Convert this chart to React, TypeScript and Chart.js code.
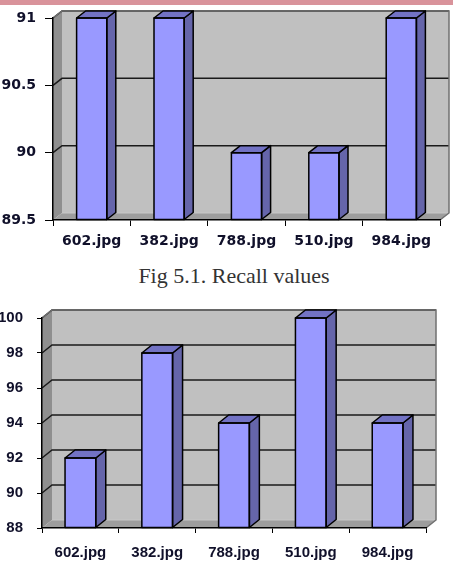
import React, { useEffect, useRef } from "react";
import { Chart, registerables } from "chart.js";

Chart.register(...registerables);

const categories = ["602.jpg", "382.jpg", "788.jpg", "510.jpg", "984.jpg"];
const topValues = [91, 91, 90, 90, 91];
const topMin = 89.5;
const topMax = 91;
const topStep = 0.5;
const bottomValues = [92, 98, 94, 100, 94];
const bottomMin = 88;
const bottomMax = 100;
const bottomStep = 2;
const captionText = "Fig 5.1. Recall values";

function poly(ctx: CanvasRenderingContext2D, pts: number[][], fill: string, stroke?: string, lw = 1) {
  ctx.beginPath();
  ctx.moveTo(pts[0][0], pts[0][1]);
  for (let i = 1; i < pts.length; i++) ctx.lineTo(pts[i][0], pts[i][1]);
  ctx.closePath();
  ctx.fillStyle = fill;
  ctx.fill();
  if (stroke) {
    ctx.strokeStyle = stroke;
    ctx.lineWidth = lw;
    ctx.stroke();
  }
}

function make3D(dx: number, dy: number) {
  return {
    id: "fake3d",
    beforeDraw(chart: any) {
      const { ctx, chartArea } = chart;
      const { left, right, top, bottom } = chartArea;
      const y = chart.scales.y;
      ctx.save();
      poly(ctx, [[left + dx, top - dy], [right + dx, top - dy], [right + dx, bottom - dy], [left + dx, bottom - dy]], "#c0c0c0");
      poly(ctx, [[left, top], [left + dx, top - dy], [left + dx, bottom - dy], [left, bottom]], "#8f8f8f");
      poly(ctx, [[left, bottom], [left + dx, bottom - dy], [right + dx, bottom - dy], [right, bottom]], "#9d9d9d");
      ctx.strokeStyle = "#c8c8c8";
      ctx.lineWidth = 1;
      ctx.beginPath();
      ctx.moveTo(left + dx, bottom - dy);
      ctx.lineTo(right + dx, bottom - dy);
      ctx.stroke();
      ctx.strokeStyle = "#1a1a1a";
      ctx.lineWidth = 1.5;
      y.ticks.forEach((t: any) => {
        const py = y.getPixelForValue(t.value);
        if (py >= bottom - 1) return;
        ctx.beginPath();
        ctx.moveTo(left, py);
        ctx.lineTo(left + dx, py - dy);
        ctx.lineTo(right + dx, py - dy);
        ctx.stroke();
      });
      ctx.strokeStyle = "#707070";
      ctx.lineWidth = 1.5;
      ctx.beginPath();
      ctx.moveTo(left, top);
      ctx.lineTo(left + dx, top - dy);
      ctx.lineTo(right + dx, top - dy);
      ctx.lineTo(right + dx, bottom - dy);
      ctx.lineTo(right, bottom);
      ctx.stroke();
      ctx.restore();
    },
    afterDatasetsDraw(chart: any) {
      const { ctx } = chart;
      const meta = chart.getDatasetMeta(0);
      ctx.save();
      ctx.lineJoin = "round";
      meta.data.forEach((el: any) => {
        const p = el.getProps(["x", "y", "base", "width"], true);
        const l = p.x - p.width / 2;
        const r = p.x + p.width / 2;
        poly(ctx, [[r, p.y], [r + dx, p.y - dy], [r + dx, p.base - dy], [r, p.base]], "#6565aa", "#000", 1.5);
        poly(ctx, [[l, p.y], [l + dx, p.y - dy], [r + dx, p.y - dy], [r, p.y]], "#7272c4", "#000", 1.5);
        ctx.strokeStyle = "#000";
        ctx.lineWidth = 1.5;
        ctx.strokeRect(l, p.y, p.width, p.base - p.y);
      });
      ctx.restore();
    },
  };
}

type Cfg = {
  values: number[];
  min: number;
  max: number;
  step: number;
  dx: number;
  dy: number;
  yWidth: number;
  xHeight: number;
  padTop: number;
  padRight: number;
  yTickLen: number;
  yPad: number;
  xTickLen: number;
  xPad: number;
  xFont: string;
  yFont: string;
  yFontSize: number;
  xFontSize: number;
  barPct: number;
};

function BarChart3D({ cfg, width, height }: { cfg: Cfg; width: number; height: number }) {
  const ref = useRef<HTMLCanvasElement>(null);
  useEffect(() => {
    if (!ref.current) return;
    const chart = new Chart(ref.current, {
      type: "bar",
      data: {
        labels: categories,
        datasets: [
          {
            data: cfg.values,
            base: cfg.min,
            backgroundColor: "#9999ff",
            borderColor: "#000",
            borderWidth: 0,
            barPercentage: cfg.barPct,
            categoryPercentage: 1,
            clip: false as any,
          } as any,
        ],
      },
      options: {
        responsive: false,
        animation: false,
        layout: { padding: { top: cfg.padTop, right: cfg.padRight, left: 0, bottom: 0 } },
        plugins: { legend: { display: false }, tooltip: { enabled: false } },
        scales: {
          x: {
            grid: { display: true, drawOnChartArea: false, drawTicks: true, tickLength: cfg.xTickLen, color: "#000", offset: true },
            border: { display: true, color: "#000", width: 1.5 },
            ticks: {
              color: "#10102a",
              padding: cfg.xPad,
              font: { family: cfg.xFont, size: cfg.xFontSize, weight: "bold" },
              maxRotation: 0,
            },
            afterFit: (s: any) => {
              s.height = cfg.xHeight;
            },
          },
          y: {
            min: cfg.min,
            max: cfg.max,
            grid: { display: true, drawOnChartArea: false, drawTicks: true, tickLength: cfg.yTickLen, color: "#000" },
            border: { display: true, color: "#000", width: 1.5 },
            ticks: {
              stepSize: cfg.step,
              color: "#10102a",
              padding: cfg.yPad,
              font: { family: cfg.yFont, size: cfg.yFontSize, weight: "bold" },
              callback: (v: any) => String(Number(v)),
            },
            afterFit: (s: any) => {
              s.width = cfg.yWidth;
            },
          },
        },
      },
      plugins: [make3D(cfg.dx, cfg.dy)],
    });
    return () => chart.destroy();
  }, []);
  return <canvas ref={ref} width={width} height={height} style={{ display: "block", width, height }} />;
}

const topCfg: Cfg = {
  values: topValues,
  min: topMin,
  max: topMax,
  step: topStep,
  dx: 9,
  dy: 7,
  yWidth: 53,
  xHeight: 40,
  padTop: 18,
  padRight: 13,
  yTickLen: 8,
  yPad: 9,
  xTickLen: 6,
  xPad: 7,
  xFont: "'DejaVu Sans', sans-serif",
  yFont: "'DejaVu Sans', sans-serif",
  yFontSize: 14,
  xFontSize: 14,
  barPct: 0.39,
};

const bottomCfg: Cfg = {
  values: bottomValues,
  min: bottomMin,
  max: bottomMax,
  step: bottomStep,
  dx: 10,
  dy: 8,
  yWidth: 42,
  xHeight: 39,
  padTop: 19,
  padRight: 27,
  yTickLen: 5,
  yPad: 14,
  xTickLen: 5,
  xPad: 11,
  xFont: "'Liberation Sans', Arial, sans-serif",
  yFont: "'Liberation Sans', Arial, sans-serif",
  yFontSize: 15,
  xFontSize: 15,
  barPct: 0.4,
};

export default function App() {
  return (
    <div style={{ position: "fixed", left: 0, top: 0, width: 453, height: 567, background: "#fff", overflow: "hidden" }}>
      <div style={{ position: "absolute", left: 0, top: 0, width: 453, height: 5, background: "#d9939b" }} />
      <div style={{ position: "absolute", left: 0, top: 0 }}>
        <BarChart3D cfg={topCfg} width={453} height={260} />
      </div>
      <div
        style={{
          position: "absolute",
          left: 234,
          top: 264,
          transform: "translateX(-50%)",
          whiteSpace: "nowrap",
          font: "22px 'Liberation Serif', 'Times New Roman', serif",
          lineHeight: "24px",
          color: "#333",
        }}
      >
        {captionText}
      </div>
      <div style={{ position: "absolute", left: 0, top: 295 }}>
        <BarChart3D cfg={bottomCfg} width={453} height={272} />
      </div>
    </div>
  );
}
